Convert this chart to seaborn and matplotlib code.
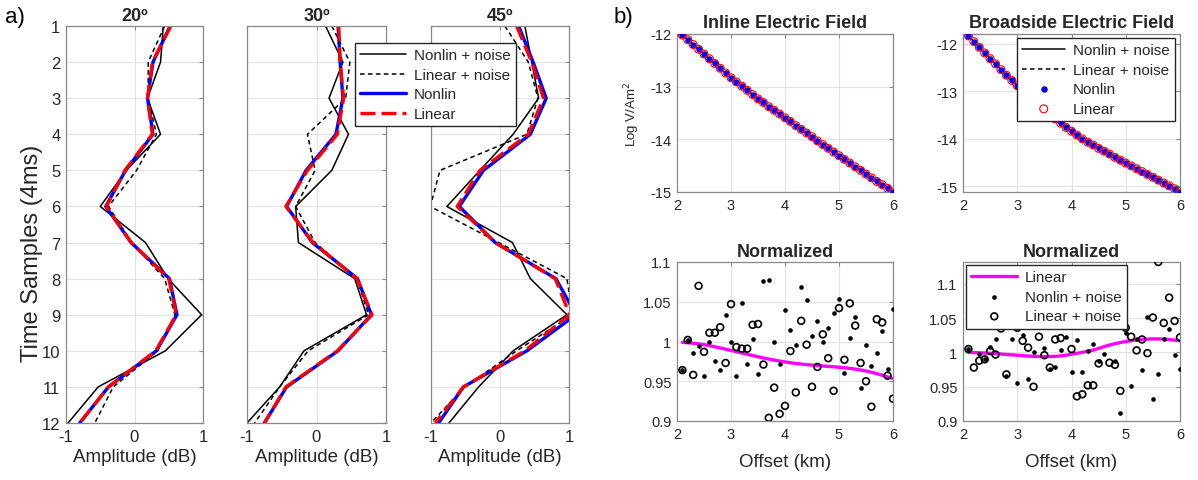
import numpy as np
import pandas as pd
import matplotlib
matplotlib.use("Agg")
import matplotlib.pyplot as plt
import seaborn as sns

# ---------------- data ----------------
# a) amplitude profiles vs. time sample for three incidence angles
samples = list(range(1, 13))
angles = ["20º", "30º", "45º"]

nonlin_noise_20 = [0.42, 0.38, 0.19, 0.38, -0.12, -0.50, 0.16, 0.49, 0.98, 0.45, -0.53, -0.97]
linear_noise_20 = [0.44, 0.20, 0.20, 0.32, 0.03, -0.38, -0.04, 0.44, 0.59, 0.34, -0.31, -0.58]
nonlin_20 = [0.52, 0.27, 0.19, 0.27, -0.13, -0.42, -0.05, 0.51, 0.62, 0.32, -0.38, -0.80]
linear_20 = [0.53, 0.26, 0.19, 0.26, -0.14, -0.41, -0.05, 0.50, 0.61, 0.31, -0.38, -0.80]

nonlin_noise_30 = [0.13, 0.38, 0.18, 0.46, 0.22, -0.30, -0.26, 0.55, 0.72, -0.18, -0.53, -1.00]
linear_noise_30 = [0.22, 0.48, 0.42, -0.13, -0.02, -0.30, -0.02, 0.58, 0.75, -0.12, -0.53, -0.89]
nonlin_30 = [0.31, 0.34, 0.38, 0.28, -0.15, -0.43, -0.06, 0.59, 0.79, 0.31, -0.43, -0.75]
linear_30 = [0.32, 0.34, 0.39, 0.30, -0.13, -0.44, -0.05, 0.58, 0.80, 0.30, -0.44, -0.75]

nonlin_noise_45 = [0.36, 0.46, 0.56, 0.19, -0.29, -0.77, 0.18, 0.44, 0.97, 0.19, -0.31, -0.74]
linear_noise_45 = [0.07, 0.41, 0.55, 0.39, -0.87, -1.01, -0.02, 0.97, 1.05, 0.24, -0.51, -1.00]
nonlin_45 = [0.27, 0.48, 0.67, 0.44, -0.24, -0.59, -0.07, 0.81, 1.10, 0.39, -0.53, -0.89]
linear_45 = [0.24, 0.46, 0.63, 0.41, -0.29, -0.62, -0.07, 0.80, 1.01, 0.36, -0.53, -0.94]

profiles = {
    "20º": (nonlin_noise_20, linear_noise_20, nonlin_20, linear_20),
    "30º": (nonlin_noise_30, linear_noise_30, nonlin_30, linear_30),
    "45º": (nonlin_noise_45, linear_noise_45, nonlin_45, linear_45),
}

# b) CSEM electric field vs. offset
offset_km = [2.1, 2.2, 2.3, 2.4, 2.5, 2.6, 2.7, 2.8, 2.9, 3.0,
             3.1, 3.2, 3.3, 3.4, 3.5, 3.6, 3.7, 3.8, 3.9, 4.0,
             4.1, 4.2, 4.3, 4.4, 4.5, 4.6, 4.7, 4.8, 4.9, 5.0,
             5.1, 5.2, 5.3, 5.4, 5.5, 5.6, 5.7, 5.8, 5.9, 6.0]

inline_field = [-12.02, -12.11, -12.20, -12.29, -12.38, -12.47, -12.56, -12.65, -12.74, -12.83,
                -12.91, -12.99, -13.07, -13.15, -13.23, -13.30, -13.38, -13.45, -13.52, -13.59,
                -13.66, -13.74, -13.81, -13.88, -13.95, -14.03, -14.10, -14.17, -14.24, -14.31,
                -14.38, -14.45, -14.52, -14.59, -14.66, -14.73, -14.80, -14.86, -14.93, -15.00]

broadside_field = [-11.83, -11.95, -12.07, -12.19, -12.31, -12.42, -12.54, -12.66, -12.77, -12.88,
                   -12.98, -13.08, -13.18, -13.28, -13.38, -13.48, -13.58, -13.67, -13.76, -13.84,
                   -13.92, -14.00, -14.07, -14.13, -14.20, -14.26, -14.32, -14.39, -14.45, -14.51,
                   -14.57, -14.63, -14.69, -14.75, -14.81, -14.87, -14.93, -14.99, -15.05, -15.11]

# normalized responses
inline_norm_linear = [0.9990, 0.9985, 0.9978, 0.9970, 0.9960, 0.9948, 0.9934, 0.9919, 0.9903, 0.9888,
                      0.9872, 0.9856, 0.9840, 0.9824, 0.9808, 0.9793, 0.9779, 0.9766, 0.9754, 0.9743,
                      0.9733, 0.9724, 0.9716, 0.9709, 0.9703, 0.9697, 0.9692, 0.9687, 0.9682, 0.9676,
                      0.9670, 0.9662, 0.9653, 0.9642, 0.9629, 0.9613, 0.9595, 0.9575, 0.9555, 0.9535]
inline_norm_nonlin_noise = [0.964, 1.002, 0.986, 0.994, 0.957, 1.000, 0.976, 0.964, 1.033, 0.999,
                            0.956, 1.049, 0.972, 1.003, 0.959, 1.076, 1.077, 0.999, 0.972, 1.040,
                            1.014, 0.996, 1.069, 1.052, 1.007, 1.026, 0.999, 1.017, 1.036, 1.053,
                            0.961, 1.005, 1.031, 0.941, 0.995, 0.969, 0.986, 1.013, 0.965, 1.041]
inline_norm_linear_noise = [0.964, 1.002, 0.958, 1.070, 0.987, 1.011, 1.011, 1.018, 0.973, 1.047,
                            0.993, 0.991, 0.991, 1.021, 1.022, 0.971, 0.904, 0.942, 0.909, 0.919,
                            0.988, 0.936, 1.026, 0.996, 0.943, 0.968, 1.009, 0.979, 0.938, 1.042,
                            0.977, 1.048, 1.020, 0.973, 0.950, 0.918, 1.028, 1.024, 0.957, 0.928]

broad_norm_linear = [1.0000, 0.9998, 0.9995, 0.9992, 0.9988, 0.9983, 0.9977, 0.9971, 0.9965, 0.9959,
                     0.9953, 0.9948, 0.9944, 0.9941, 0.9940, 0.9941, 0.9944, 0.9950, 0.9960, 0.9975,
                     0.9988, 1.0002, 1.0018, 1.0035, 1.0060, 1.0085, 1.0108, 1.0128, 1.0145, 1.0160,
                     1.0172, 1.0182, 1.0190, 1.0195, 1.0198, 1.0198, 1.0195, 1.0188, 1.0180, 1.0170]
broad_norm_nonlin_noise = [1.005, 1.060, 0.998, 0.990, 1.008, 1.019, 1.050, 0.965, 1.020, 0.955,
                           1.026, 0.961, 1.000, 1.080, 1.007, 0.976, 0.979, 1.003, 1.022, 0.971,
                           1.018, 0.972, 1.002, 1.012, 0.988, 0.998, 1.037, 0.987, 0.911, 1.029,
                           0.951, 1.019, 0.975, 1.052, 0.932, 0.968, 1.019, 1.034, 0.997, 0.976]
broad_norm_linear_noise = [1.005, 0.978, 0.988, 0.990, 1.002, 0.997, 1.035, 0.968, 1.060, 1.036,
                           1.017, 1.007, 0.950, 1.023, 0.996, 0.978, 1.019, 1.021, 1.050, 1.005,
                           0.936, 0.939, 0.952, 0.952, 0.984, 1.045, 0.985, 0.982, 0.944, 1.036,
                           1.023, 1.003, 1.019, 0.999, 1.051, 1.132, 1.043, 1.080, 1.046, 1.022]

# ---------------- style ----------------
sns.set_theme(style="whitegrid")
plt.rcParams["font.family"] = ["Liberation Sans", "DejaVu Sans"]
plt.rcParams.update({
    "axes.edgecolor": "#8a8a8a",
    "axes.linewidth": 0.9,
    "grid.color": "#e2e2e2",
    "grid.linewidth": 0.8,
    "xtick.color": "#8a8a8a",
    "ytick.color": "#8a8a8a",
    "xtick.labelcolor": "#262626",
    "ytick.labelcolor": "#262626",
    "axes.labelcolor": "#262626",
})

W, H = 1198, 481
fig = plt.figure(figsize=(W / 100, H / 100), dpi=100)


def add_ax(left, top, right, bottom):
    return fig.add_axes([left / W, 1 - bottom / H, (right - left) / W, (bottom - top) / H])


def style_ticks(ax, size):
    ax.tick_params(axis="both", which="both", direction="in", length=3, width=0.8,
                   top=True, right=True, labelsize=size, pad=4)
    for s in ax.spines.values():
        s.set_visible(True)
        s.set_color("#8a8a8a")


LEGEND_KW = dict(fontsize=11, frameon=True, fancybox=False, framealpha=1,
                 edgecolor="#262626", borderpad=0.35, handletextpad=0.5, borderaxespad=0)

# ---------------- a) profiles ----------------
BLUE = "#0000ff"
RED = "#ff0000"
a_boxes = [(66, 27, 203, 424), (247, 27, 386, 424), (431, 27, 569, 424)]
a_axes = []
for i, (ang, box) in enumerate(zip(angles, a_boxes)):
    ax = add_ax(*box)
    nn, ln, nl, li = profiles[ang]
    sns.lineplot(x=nn, y=samples, orient="y", estimator=None, sort=False, ax=ax,
                 color="black", linewidth=1.1, label="Nonlin + noise")
    sns.lineplot(x=ln, y=samples, orient="y", estimator=None, sort=False, ax=ax,
                 color="black", linewidth=1.1, linestyle=(0, (3, 2.2)), label="Linear + noise")
    sns.lineplot(x=nl, y=samples, orient="y", estimator=None, sort=False, ax=ax,
                 color=BLUE, linewidth=2.4, label="Nonlin")
    sns.lineplot(x=li, y=samples, orient="y", estimator=None, sort=False, ax=ax,
                 color=RED, linewidth=2.4, linestyle=(0, (4.5, 1.8)), label="Linear")
    ax.set_xlim(-1, 1)
    ax.set_ylim(12, 1)
    ax.set_xticks([-1, 0, 1])
    ax.set_xticklabels(["-1", "0", "1"])
    ax.set_yticks(samples)
    if i == 0:
        ax.set_yticklabels([str(s) for s in samples])
        ax.set_ylabel("Time Samples (4ms)", fontsize=17)
        ax.yaxis.set_label_coords(-0.17, 0.43)
    else:
        ax.set_yticklabels([])
        ax.set_ylabel("")
    ax.set_xlabel("Amplitude (dB)", fontsize=13.5, labelpad=3)
    ax.set_title(ang, fontsize=13, fontweight="bold", pad=4)
    style_ticks(ax, 12)
    ax.grid(True)
    a_axes.append(ax)
    leg = ax.get_legend()
    if leg is not None:
        leg.remove()

handles, labels = a_axes[0].get_legend_handles_labels()
fig.legend(handles, labels, loc="upper left", bbox_to_anchor=(355 / W, 1 - 44 / H),
           handlelength=3.0, labelspacing=0.36, **LEGEND_KW)

# ---------------- b) field plots ----------------
b_boxes = [(677, 35, 893, 193), (963, 35, 1180, 193)]
fields = [("Inline Electric Field", inline_field, (-15, -12)),
          ("Broadside Electric Field", broadside_field, (-15.12, -11.79))]
for j, ((title, vals, ylim), box) in enumerate(zip(fields, b_boxes)):
    ax = add_ax(*box)
    sns.lineplot(x=offset_km, y=vals, estimator=None, sort=False, ax=ax,
                 color="black", linewidth=1.1, label="Nonlin + noise")
    sns.lineplot(x=offset_km, y=vals, estimator=None, sort=False, ax=ax,
                 color="black", linewidth=1.1, linestyle=(0, (3, 2.2)), label="Linear + noise")
    sns.scatterplot(x=offset_km, y=vals, ax=ax, marker="o", s=22, color=BLUE,
                    edgecolor=BLUE, linewidth=0, label="Nonlin", zorder=3)
    sns.scatterplot(x=offset_km, y=vals, ax=ax, marker="o", s=32, facecolor="none",
                    edgecolor=RED, linewidth=0.8, label="Linear", zorder=4)
    ax.set_xlim(2, 6)
    ax.set_ylim(*ylim)
    ax.set_xticks([2, 3, 4, 5, 6])
    ax.set_yticks([-12, -13, -14, -15])
    ax.set_yticklabels(["-12", "-13", "-14", "-15"])
    ax.set_title(title, fontsize=13, fontweight="bold", pad=5)
    style_ticks(ax, 10.5)
    ax.grid(True)
    if j == 0:
        ax.set_ylabel("Log V/Am$^2$", fontsize=9.5, labelpad=6)
    hl, ll = ax.get_legend_handles_labels()
    ax.get_legend().remove()
    if j == 1:
        ax.legend(hl, ll, loc="upper left",
                  bbox_to_anchor=((1017 - 963) / 217, 1 - (39 - 35) / 158),
                  handlelength=2.8, labelspacing=0.36, **LEGEND_KW)

# ---------------- b) normalized plots ----------------
n_boxes = [(677, 263, 893, 422), (963, 263, 1180, 422)]
norms = [(inline_norm_linear, inline_norm_nonlin_noise, inline_norm_linear_noise, (0.9, 1.1)),
         (broad_norm_linear, broad_norm_nonlin_noise, broad_norm_linear_noise, (0.9, 1.132))]
for j, ((lin, nn, ln, ylim), box) in enumerate(zip(norms, n_boxes)):
    ax = add_ax(*box)
    sns.lineplot(x=offset_km, y=lin, estimator=None, sort=False, ax=ax,
                 color="#ff00ff", linewidth=2.4, label="Linear")
    sns.scatterplot(x=offset_km, y=nn, ax=ax, marker="o", s=11, color="black",
                    edgecolor="black", linewidth=0, label="Nonlin + noise", zorder=3)
    sns.scatterplot(x=offset_km, y=ln, ax=ax, marker="o", s=24, facecolor="none",
                    edgecolor="black", linewidth=1.2, label="Linear + noise", zorder=4)
    ax.set_xlim(2, 6)
    ax.set_ylim(*ylim)
    ax.set_xticks([2, 3, 4, 5, 6])
    ax.set_yticks([0.9, 0.95, 1.0, 1.05, 1.1])
    ax.set_yticklabels(["0.9", "0.95", "1", "1.05", "1.1"])
    ax.set_title("Normalized", fontsize=13, fontweight="bold", pad=4)
    ax.set_xlabel("Offset (km)", fontsize=13.5, labelpad=9)
    style_ticks(ax, 10.5)
    ax.grid(True)
    hl, ll = ax.get_legend_handles_labels()
    ax.get_legend().remove()
    if j == 1:
        ax.legend(hl, ll, loc="upper left",
                  bbox_to_anchor=((966 - 963) / 217, 1 - (266 - 263) / 159),
                  handlelength=3.0, labelspacing=0.36, **LEGEND_KW)

# panel labels
fig.text(5 / W, 1 - 17 / H, "a)", fontsize=16, va="center", ha="left", color="black")
fig.text(614 / W, 1 - 18 / H, "b)", fontsize=16, va="center", ha="left", color="black")

fig.savefig("out.png", dpi=100, facecolor="white")
